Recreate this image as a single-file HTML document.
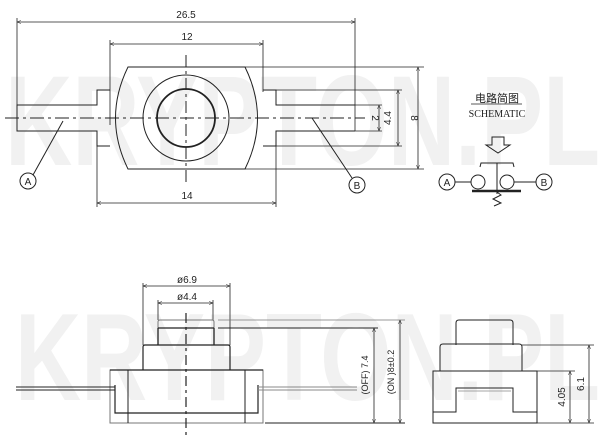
<!DOCTYPE html>
<html><head><meta charset="utf-8"><style>
html,body{margin:0;padding:0;background:#fff;}
svg{display:block;}
text{font-family:"Liberation Sans","Noto Sans CJK SC",sans-serif;fill:#222;}
</style></head><body>
<svg width="607" height="439" viewBox="0 0 607 439" xmlns="http://www.w3.org/2000/svg">
<defs>
<marker id="ar" viewBox="0 0 10 10" refX="10" refY="5" markerWidth="7" markerHeight="5" orient="auto-start-reverse"><path d="M0,1 L10,5 L0,9" fill="none" stroke="#222" stroke-width="1.2"/></marker>
</defs>
<!-- watermarks -->
<text x="5" y="165" font-size="128" font-weight="bold" textLength="595" lengthAdjust="spacingAndGlyphs" style="fill:#f1f1f1">KRYPTON.PL</text>
<text x="15" y="400" font-size="124" font-weight="bold" textLength="585" lengthAdjust="spacingAndGlyphs" style="fill:#f1f1f1">KRYPTON.PL</text>

<g fill="none" stroke="#222" stroke-width="1">
<!-- TOP VIEW -->
<!-- 26.5 -->
<line x1="17" y1="18" x2="17" y2="131" stroke-width="0.8"/>
<line x1="355" y1="18" x2="355" y2="131" stroke-width="0.8"/>
<line x1="17" y1="22" x2="355" y2="22" marker-start="url(#ar)" marker-end="url(#ar)" stroke-width="0.8"/>
<!-- 12 -->
<line x1="110" y1="40" x2="110" y2="125" stroke-width="0.8"/>
<line x1="263" y1="40" x2="263" y2="92" stroke-width="0.8"/>
<line x1="110" y1="44" x2="263" y2="44" marker-start="url(#ar)" marker-end="url(#ar)" stroke-width="0.8"/>
<!-- body -->
<path d="M128,67 L245,67 Q270,118 245,169 L128,169 Q103,118 128,67 Z"/>
<!-- left flange and pin -->
<path d="M110,90 L97,90 L97,105 L17,105 L17,131 L97,131 L97,146 L110,146"/>
<!-- right flange and pin -->
<path d="M263,90 L276,90 L276,105 L355,105 M263,146 L276,146 L276,131 L355,131"/>
<line x1="276" y1="90" x2="402" y2="90" stroke-width="0.8"/>
<line x1="276" y1="146" x2="402" y2="146" stroke-width="0.8"/>
<line x1="355" y1="105" x2="382" y2="105" stroke-width="0.8"/>
<line x1="355" y1="131" x2="382" y2="131" stroke-width="0.8"/>
<line x1="245" y1="67" x2="424" y2="67" stroke-width="0.8"/>
<line x1="245" y1="169" x2="424" y2="169" stroke-width="0.8"/>
<!-- circles -->
<circle cx="186" cy="118" r="43"/>
<circle cx="186" cy="118" r="29" stroke-width="1.8"/>
<!-- centerlines -->
<line x1="5" y1="118" x2="365" y2="118" stroke-dasharray="14,4,3,4"/>
<line x1="186" y1="55" x2="186" y2="182" stroke-dasharray="12,4,3,4"/>
<!-- vertical dims -->
<line x1="379" y1="105" x2="379" y2="131" marker-start="url(#ar)" marker-end="url(#ar)" stroke-width="0.8"/>
<line x1="398" y1="90" x2="398" y2="146" marker-start="url(#ar)" marker-end="url(#ar)" stroke-width="0.8"/>
<line x1="418" y1="67" x2="418" y2="169" marker-start="url(#ar)" marker-end="url(#ar)" stroke-width="0.8"/>
<!-- 14 -->
<line x1="97" y1="146" x2="97" y2="207" stroke-width="0.8"/>
<line x1="276" y1="146" x2="276" y2="207" stroke-width="0.8"/>
<line x1="97" y1="203" x2="276" y2="203" marker-start="url(#ar)" marker-end="url(#ar)" stroke-width="0.8"/>
<!-- A / B leaders -->
<circle cx="28" cy="181" r="8"/>
<line x1="33" y1="175" x2="63" y2="121"/>
<circle cx="357" cy="185" r="8"/>
<line x1="352" y1="178" x2="312" y2="118"/>

<!-- SCHEMATIC -->
<line x1="471" y1="104" x2="522" y2="104" stroke-width="0.8"/>
<path d="M492,137 L504,137 L504,145 L510,145 L498,153 L486,145 L492,145 Z"/>
<path d="M480,167 L481,163 L513,163 L514,167"/>
<line x1="497" y1="163" x2="497" y2="194"/>
<circle cx="447" cy="182" r="8"/>
<line x1="455" y1="182" x2="471" y2="182"/>
<circle cx="478" cy="182" r="7"/>
<circle cx="507" cy="182" r="7"/>
<line x1="514" y1="182" x2="536" y2="182"/>
<circle cx="544" cy="182" r="8"/>
<line x1="472" y1="191" x2="521" y2="191" stroke-width="2.5"/>
<path d="M497,192 L501,195 L493,199 L501,203 L494,206"/>

<!-- FRONT VIEW -->
<line x1="143" y1="283" x2="143" y2="345" stroke-width="0.8"/>
<line x1="230" y1="283" x2="230" y2="345" stroke-width="0.8"/>
<line x1="143" y1="286" x2="230" y2="286" marker-start="url(#ar)" marker-end="url(#ar)" stroke-width="0.8"/>
<line x1="158" y1="300" x2="158" y2="320" stroke-width="0.8"/>
<line x1="213" y1="300" x2="213" y2="320" stroke-width="0.8"/>
<line x1="158" y1="303" x2="213" y2="303" marker-start="url(#ar)" marker-end="url(#ar)" stroke-width="0.8"/>
<path d="M158,345 L158,322 Q158,320 160,320 L212,320 Q214,320 214,322 L214,345" stroke="#777"/>
<line x1="158" y1="328" x2="214" y2="328" stroke-width="1.3"/>
<line x1="158" y1="328" x2="158" y2="345" stroke-width="1.3"/>
<line x1="214" y1="328" x2="214" y2="345" stroke-width="1.3"/>
<line x1="218" y1="320" x2="405" y2="320" stroke="#777" stroke-width="0.8"/>
<line x1="218" y1="328" x2="378" y2="328"/>
<path d="M143,370 L143,347 Q143,345 145,345 L228,345 Q230,345 230,347 L230,370" stroke-width="1.2"/>
<rect x="110" y="370" width="153" height="53" stroke="#777"/>
<line x1="110" y1="370" x2="263" y2="370" stroke-width="1.2"/>
<path d="M115,385 L115,413 L258,413 L258,385" stroke-width="1.2"/>
<line x1="128" y1="370" x2="128" y2="423"/>
<line x1="245" y1="370" x2="245" y2="423"/>
<path d="M16,387 L115,387 M16,390 L115,390" stroke-width="0.9"/>
<path d="M258,387 L357,387 M258,390 L357,390" stroke="#888" stroke-width="0.9"/>
<line x1="186" y1="313" x2="186" y2="436" stroke-width="1.2" stroke-dasharray="10,4,3,4"/>
<line x1="265" y1="423" x2="405" y2="423"/>
<line x1="374" y1="328" x2="374" y2="423" marker-start="url(#ar)" marker-end="url(#ar)" stroke-width="0.8"/>
<line x1="400" y1="320" x2="400" y2="423" marker-start="url(#ar)" marker-end="url(#ar)" stroke-width="0.8"/>

<!-- SIDE VIEW -->
<path d="M456,345 L456,323 Q456,320 459,320 L510,320 Q513,320 513,323 L513,345"/>
<path d="M440,371 L440,347 Q440,344 443,344 L519,344 Q522,344 522,347 L522,371"/>
<rect x="433" y="371" width="104" height="52"/>
<path d="M433,412 L456,412 L456,388 L513,388 L513,412 L537,412" stroke-width="1"/>
<line x1="458" y1="391" x2="511" y2="391" stroke="#888" stroke-width="0.8"/>
<line x1="522" y1="345" x2="594" y2="345" stroke-width="0.8"/>
<line x1="537" y1="371" x2="575" y2="371" stroke-width="0.8"/>
<line x1="537" y1="423" x2="594" y2="423" stroke-width="0.8"/>
<line x1="570" y1="371" x2="570" y2="423" marker-start="url(#ar)" marker-end="url(#ar)" stroke-width="0.8"/>
<line x1="589" y1="345" x2="589" y2="423" marker-start="url(#ar)" marker-end="url(#ar)" stroke-width="0.8"/>
</g>

<!-- labels -->
<g font-size="10">
<text x="186" y="18" text-anchor="middle">26.5</text>
<text x="187" y="40" text-anchor="middle">12</text>
<text x="187" y="199" text-anchor="middle">14</text>
<text x="28" y="185" text-anchor="middle" font-size="10">A</text>
<text x="357" y="189" text-anchor="middle" font-size="10">B</text>
<text x="447" y="186" text-anchor="middle" font-size="10">A</text>
<text x="544" y="186" text-anchor="middle" font-size="10">B</text>
<text x="497" y="102" text-anchor="middle" font-size="11">电路简图</text>
<text x="497" y="117" text-anchor="middle" font-size="10" style="font-family:'Liberation Serif',serif">SCHEMATIC</text>
<text transform="translate(372,118) rotate(90)" text-anchor="middle">2</text>
<text transform="translate(391,118) rotate(-90)" text-anchor="middle">4.4</text>
<text transform="translate(411,118) rotate(90)" text-anchor="middle">8</text>
<text x="187" y="283" text-anchor="middle">ø6.9</text>
<text x="187" y="300" text-anchor="middle">ø4.4</text>
<text transform="translate(368,375) rotate(-90)" text-anchor="middle" font-size="9">(OFF) 7.4</text>
<text transform="translate(394,372) rotate(-90)" text-anchor="middle" font-size="9">(ON )8±0.2</text>
<text transform="translate(565,397) rotate(-90)" text-anchor="middle">4.05</text>
<text transform="translate(584,384) rotate(-90)" text-anchor="middle">6.1</text>
</g>
</svg>
</body></html>
